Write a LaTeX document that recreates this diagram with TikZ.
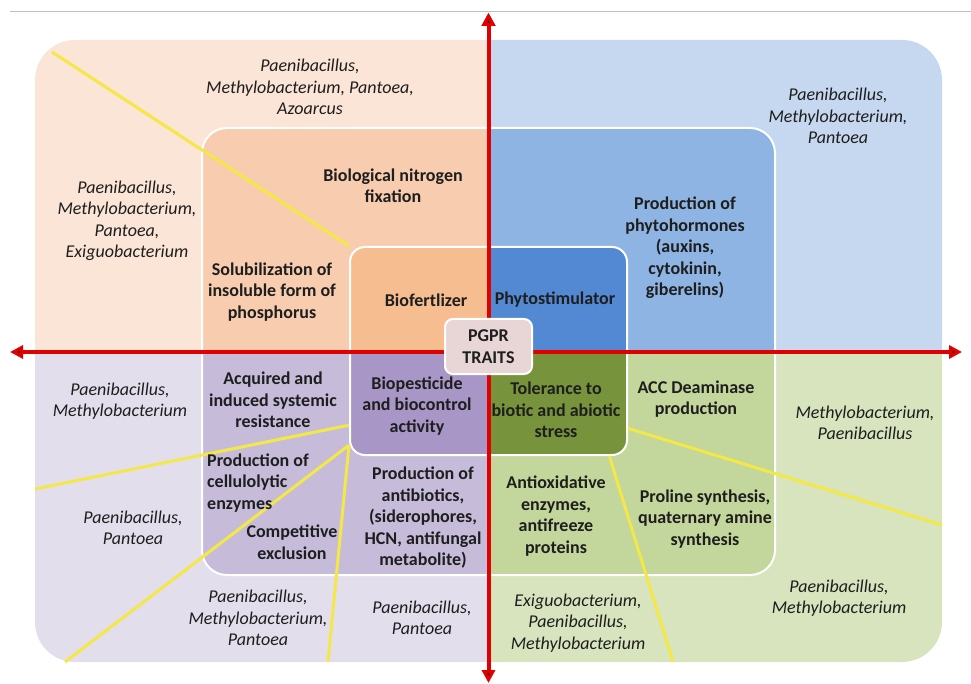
\documentclass[tikz,border=0pt]{standalone}
\usepackage{fontspec}
\setmainfont{Carlito}
\usetikzlibrary{positioning,arrows.meta}

\definecolor{fertA}{HTML}{FBE5D6}
\definecolor{fertB}{HTML}{F8CDAF}
\definecolor{fertC}{HTML}{F6BD90}
\definecolor{stimA}{HTML}{C5D8EF}
\definecolor{stimB}{HTML}{8EB4E3}
\definecolor{stimC}{HTML}{5289D2}
\definecolor{pestA}{HTML}{E3DEEC}
\definecolor{pestB}{HTML}{C6BCDA}
\definecolor{pestC}{HTML}{A896C6}
\definecolor{tolA}{HTML}{D7E4BD}
\definecolor{tolB}{HTML}{C3D69B}
\definecolor{tolC}{HTML}{77933C}
\definecolor{coreBox}{HTML}{E8D5D5}
\definecolor{axisRed}{HTML}{E00000}
\definecolor{rayYellow}{HTML}{F3E845}
\definecolor{inkDark}{HTML}{1E1E1E}

\begin{document}
\begin{tikzpicture}[x=1pt,y=-1pt,
    trait/.style={font=\fontsize{18}{21.5}\selectfont\bfseries,align=center,text=inkDark},
    genus/.style={font=\fontsize{18}{21.5}\selectfont\itshape,align=center,text=inkDark},
    frame/.style={draw=white,line width=2pt,rounded corners=#1,inner sep=0pt},
    ray/.style={draw=rayYellow,line width=3pt},
    axis/.style={draw=axisRed,line width=4pt,{Triangle[length=13pt,width=13pt]}-{Triangle[length=13pt,width=13pt]}}]
\useasboundingbox (0,0) rectangle (971,684);
\draw[black!25] (10,11) -- (971,11);

% quadrant colours
\foreach \qx/\qy/\ca/\cb/\cc in {35/40/fertA/fertB/fertC, 942/40/stimA/stimB/stimC,
                                 35/662/pestA/pestB/pestC, 942/662/tolA/tolB/tolC} {
  \begin{scope}
    \clip (488.5,351.5) rectangle (\qx,\qy);
    \fill[\ca,rounded corners=40pt] (35,40) rectangle (942,662);
    \fill[\cb,rounded corners=25pt] (202,128) rectangle (775,575);
    \fill[\cc,rounded corners=15pt] (350,247) rectangle (627,455);
  \end{scope}
}
\node[frame=25pt,minimum width=573pt,minimum height=447pt] (mid) at (488.5,351.5) {};
\node[frame=15pt,minimum width=277pt,minimum height=208pt] (core) at (488.5,351) {};

% yellow rays
\coordinate (r_1) at (52,52);
\coordinate (r_2) at (35,489);
\coordinate (r_3) at (65,662);
\coordinate (r_4) at (328,662);
\coordinate (r_5) at (942,525);
\coordinate (r_6) at (673,662);
\path[ray]
    (core.north west) edge (r_1)
    (core.208) edge (r_2)
    (core.214) edge (r_3)
               edge (r_4)
    (core.331) edge (r_5)
    (core.319) edge (r_6);

% axes
\coordinate (ax_W) at (10,352);
\coordinate (ax_E) at (962,352);
\coordinate (ax_N) at (488.5,13);
\coordinate (ax_S) at (488.5,683);
\path[axis] (ax_W) edge (ax_E)
            (ax_N) edge (ax_S);
\node[trait,fill=coreBox,draw=white,line width=2pt,rounded corners=8pt,
      minimum width=87pt,minimum height=55pt,inner sep=2pt] (pgpr) at (488.5,346.5) {PGPR\\TRAITS};

% biofertilizer
\node[trait] (biofert) at (426,300) {Biofertlizer};
\node[trait] (bnf) at (393,186) {Biological nitrogen\\fixation};
\node[trait] (psol) at (272,292) {Solubilization of\\insoluble form of\\phosphorus};
\node[genus] (azoG) at (310,87) {Paenibacillus,\\Methylobacterium, Pantoea,\\Azoarcus};
\node[genus] (exiG) at (127,221) {Paenibacillus,\\Methylobacterium,\\Pantoea,\\Exiguobacterium};

% phytostimulator
\node[trait] (phyto) at (555,300) {Phytostimulator};
\node[trait] (horm) at (685,248) {Production of\\phytohormones\\(auxins,\\cytokinin,\\giberelins)};
\node[genus] (hormG) at (838,116) {Paenibacillus,\\Methylobacterium,\\Pantoea};

% biopesticide
\node[trait] (biopest) at (417,406) {Biopesticide\\and biocontrol\\activity};
\node[trait] (isr) at (273,400) {Acquired and\\induced systemic\\resistance};
\node[trait,align=left,anchor=west,inner sep=0pt] (cel) at (207,483) {Production of\\cellulolytic\\enzymes};
\node[trait] (comp) at (292,542) {Competitive\\exclusion};
\node[trait] (antib) at (423,518) {Production of\\antibiotics,\\(siderophores,\\HCN, antifungal\\metabolite)};
\node[genus] (isrG) at (120,401) {Paenibacillus,\\Methylobacterium};
\node[genus] (celG) at (133,528) {Paenibacillus,\\Pantoea};
\node[genus] (compG) at (258,618) {Paenibacillus,\\Methylobacterium,\\Pantoea};
\node[genus] (antibG) at (422,618) {Paenibacillus,\\Pantoea};

% stress tolerance
\node[trait] (stress) at (556,410) {Tolerance to\\biotic and abiotic\\stress};
\node[trait] (acc) at (696,399) {ACC Deaminase\\production};
\node[trait] (antiox) at (556,516) {Antioxidative\\enzymes,\\antifreeze\\proteins};
\node[trait] (prol) at (705,519) {Proline synthesis,\\quaternary amine\\synthesis};
\node[genus] (accG) at (865,423) {Methylobacterium,\\Paenibacillus};
\node[genus] (prolG) at (839,598) {Paenibacillus,\\Methylobacterium};
\node[genus] (antioxG) at (578,623) {Exiguobacterium,\\Paenibacillus,\\Methylobacterium};
\end{tikzpicture}
\end{document}
